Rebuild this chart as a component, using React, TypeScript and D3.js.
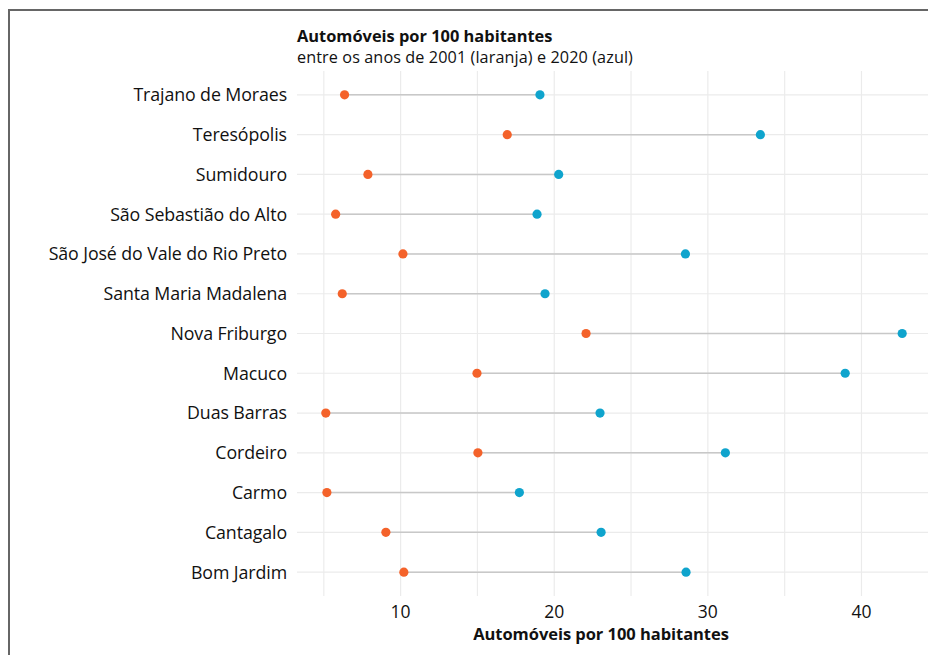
import React from "react";
import * as d3 from "d3";

const municipios = [
  "Trajano de Moraes",
  "Teresópolis",
  "Sumidouro",
  "São Sebastião do Alto",
  "São José do Vale do Rio Preto",
  "Santa Maria Madalena",
  "Nova Friburgo",
  "Macuco",
  "Duas Barras",
  "Cordeiro",
  "Carmo",
  "Cantagalo",
  "Bom Jardim",
];
const valores2001 = [6.35, 16.94, 7.87, 5.77, 10.15, 6.2, 22.07, 14.97, 5.13, 15.03, 5.2, 9.04, 10.21];
const valores2020 = [19.07, 33.42, 20.29, 18.88, 28.54, 19.4, 42.65, 38.94, 22.98, 31.14, 17.73, 23.05, 28.58];
const majorTicks = [10, 20, 30, 40];
const minorTicks = [5, 15, 25, 35];

const title = "Automóveis por 100 habitantes";
const subtitle = "entre os anos de 2001 (laranja) e 2020 (azul)";
const xTitle = "Automóveis por 100 habitantes";

const W = 928;
const H = 655;
const FONT = "'Open Sans', 'Noto Sans', sans-serif";
const ORANGE = "#F4622A";
const BLUE = "#0FA4CD";

export default function App() {
  const all = [...valores2001, ...valores2020];
  const [mn, mx] = d3.extent(all) as [number, number];
  const pad = (mx - mn) * 0.05;
  const panelLeft = 297;
  const panelRight = 931;
  const panelTop = 71;
  const panelBottom = 596;
  const x = d3.scaleLinear().domain([mn - pad, mx + pad]).range([panelLeft, panelRight]);
  const y = d3.scalePoint<string>().domain(municipios).range([panelTop, panelBottom]).padding(0.6);

  return (
    <svg
      width={W}
      height={H}
      style={{ position: "absolute", left: 0, top: 0, background: "#fff" }}
      fontFamily={FONT}
    >
      <rect x={0} y={0} width={W} height={H} fill="#fff" />
      <rect x={9} y={10} width={W + 20} height={H + 20} fill="none" stroke="#666" strokeWidth={2} />
      {/* title */}
      <text x={297} y={42} fontSize={16.4} fontWeight={700} fill="#111">
        {title}
      </text>
      <text x={297} y={62.5} fontSize={16.2} fill="#111" letterSpacing={0.1}>
        {subtitle}
      </text>
      {/* grid */}
      {minorTicks.map((t) => (
        <line key={"mi" + t} x1={x(t)} x2={x(t)} y1={panelTop} y2={panelBottom} stroke="#ececec" strokeWidth={1.2} />
      ))}
      {majorTicks.map((t) => (
        <line key={"ma" + t} x1={x(t)} x2={x(t)} y1={panelTop} y2={panelBottom} stroke="#ebebeb" strokeWidth={1.2} />
      ))}
      {municipios.map((m) => (
        <line key={"h" + m} x1={panelLeft} x2={panelRight} y1={y(m)} y2={y(m)} stroke="#ebebeb" strokeWidth={1.2} />
      ))}
      {/* segments and dots */}
      {municipios.map((m, i) => (
        <g key={"s" + m}>
          <line x1={x(valores2001[i])} x2={x(valores2020[i])} y1={y(m)} y2={y(m)} stroke="#c8c8c8" strokeWidth={1.5} />
          <circle cx={x(valores2001[i])} cy={y(m)} r={4.6} fill={ORANGE} />
          <circle cx={x(valores2020[i])} cy={y(m)} r={4.6} fill={BLUE} />
        </g>
      ))}
      {/* y labels */}
      {municipios.map((m) => (
        <text key={"l" + m} x={287} y={y(m)} dy="0.36em" textAnchor="end" fontSize={17.8} fill="#111" letterSpacing={-0.1}>
          {m}
        </text>
      ))}
      {/* x tick labels */}
      {majorTicks.map((t) => (
        <text key={"t" + t} x={x(t)} y={618} textAnchor="middle" fontSize={17.5} fill="#111">
          {t}
        </text>
      ))}
      <text x={601} y={639.5} textAnchor="middle" fontSize={16.5} fontWeight={700} fill="#111" letterSpacing={-0.05}>
        {xTitle}
      </text>
    </svg>
  );
}
